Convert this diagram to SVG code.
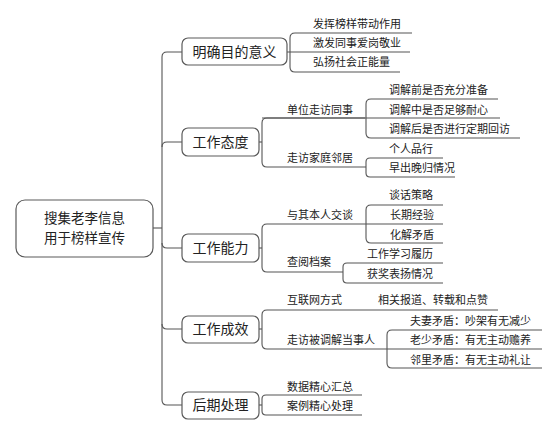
<svg xmlns="http://www.w3.org/2000/svg" width="558" height="435" viewBox="0 0 558 435">
<style>
.bg{fill:#ffffff}
.box{fill:#ffffff;stroke:#5a5a5a;stroke-width:1.2}
.ln{fill:none;stroke:#555555;stroke-width:1.1}
.t1{font-family:"Noto Sans CJK SC","Noto Sans",sans-serif;font-size:14px;fill:#222222;text-anchor:middle}
.t0{font-family:"Noto Sans CJK SC","Noto Sans",sans-serif;font-size:13.5px;fill:#222222;text-anchor:middle}
.t2{font-family:"Noto Sans CJK SC","Noto Sans",sans-serif;font-size:11px;fill:#222222}
</style>
<rect class="bg" x="0" y="0" width="558" height="435"/>
<g id="connectors">
<path class="ln" d="M153,228 H162"/>
<path class="ln" d="M182,52 H167 Q162,52 162,57 V400 Q162,405 167,405 H182"/>
<path class="ln" d="M162,147 Q162,142 167,142 H182"/>
<path class="ln" d="M162,243 Q162,248 167,248 H182"/>
<path class="ln" d="M162,324 Q162,329 167,329 H182"/>
<path class="ln" d="M412,33 H295 Q290,33 290,38 V67 Q290,72 295,72 H400"/>
<path class="ln" d="M287,52 H410"/>
<path class="ln" d="M259,142 H262"/>
<path class="ln" d="M262,118 H500"/>
<path class="ln" d="M365,118 H267 Q262,118 262,123 V162 Q262,167 267,167 H366"/>
<path class="ln" d="M498,99 H371 Q366,99 366,104 V133 Q366,138 371,138 H520"/>
<path class="ln" d="M443,158 H370 Q366,158 366,162 V173 Q366,177 370,177 H455"/>
<path class="ln" d="M259,248 H262"/>
<path class="ln" d="M443,224 H267 Q262,224 262,229 V267 Q262,272 267,272 H343"/>
<path class="ln" d="M443,205 H371 Q366,205 366,210 V238 Q366,243 371,243 H443"/>
<path class="ln" d="M443,263 H347 Q343,263 343,267 V279 Q343,283 347,283 H443"/>
<path class="ln" d="M259,329 H262"/>
<path class="ln" d="M498,310 H267 Q262,310 262,315 V344 Q262,349 267,349 H542"/>
<path class="ln" d="M542,330 H392 Q387,330 387,335 V363 Q387,368 392,368 H542"/>
<path class="ln" d="M259,405 H262"/>
<path class="ln" d="M362,395 H266 Q262,395 262,399 V411 Q262,415 266,415 H362"/>
</g>
<g id="root">
<rect class="box" x="16" y="200" width="137" height="57" rx="9"/>
<text class="t0" x="84.5" y="223">搜集老李信息</text>
<text class="t0" x="84.5" y="243">用于榜样宣传</text>
</g>
<g id="n-purpose">
<rect class="box" x="182" y="38" width="105" height="27" rx="6"/>
<text class="t1" x="234.5" y="57">明确目的意义</text>
</g>
<g id="n-attitude">
<rect class="box" x="182" y="128" width="77" height="28" rx="6"/>
<text class="t1" x="220.5" y="147">工作态度</text>
</g>
<g id="n-ability">
<rect class="box" x="182" y="234" width="77" height="28" rx="6"/>
<text class="t1" x="220.5" y="253">工作能力</text>
</g>
<g id="n-result">
<rect class="box" x="182" y="316" width="77" height="27" rx="6"/>
<text class="t1" x="220.5" y="334">工作成效</text>
</g>
<g id="n-post">
<rect class="box" x="182" y="392" width="77" height="27" rx="6"/>
<text class="t1" x="220.5" y="410">后期处理</text>
</g>
<g id="l-purpose">
<text class="t2" x="313" y="28">发挥榜样带动作用</text>
<text class="t2" x="313" y="47">激发同事爱岗敬业</text>
<text class="t2" x="313" y="66">弘扬社会正能量</text>
</g>
<g id="l-attitude">
<text class="t2" x="287" y="114">单位走访同事</text>
<text class="t2" x="287" y="162">走访家庭邻居</text>
<text class="t2" x="389" y="94">调解前是否充分准备</text>
<text class="t2" x="389" y="114">调解中是否足够耐心</text>
<text class="t2" x="389" y="133">调解后是否进行定期回访</text>
<text class="t2" x="389" y="153">个人品行</text>
<text class="t2" x="389" y="172">早出晚归情况</text>
</g>
<g id="l-ability">
<text class="t2" x="287" y="219">与其本人交谈</text>
<text class="t2" x="287" y="266">查阅档案</text>
<text class="t2" x="389" y="199">谈话策略</text>
<text class="t2" x="390" y="219">长期经验</text>
<text class="t2" x="390" y="239">化解矛盾</text>
<text class="t2" x="367" y="258">工作学习履历</text>
<text class="t2" x="367" y="278">获奖表扬情况</text>
</g>
<g id="l-result">
<text class="t2" x="287" y="304">互联网方式</text>
<text class="t2" x="378" y="304">相关报道、转载和点赞</text>
<text class="t2" x="287" y="344">走访被调解当事人</text>
<text class="t2" x="410" y="325">夫妻矛盾：吵架有无减少</text>
<text class="t2" x="410" y="344">老少矛盾：有无主动赡养</text>
<text class="t2" x="410" y="364">邻里矛盾：有无主动礼让</text>
</g>
<g id="l-post">
<text class="t2" x="287" y="391">数据精心汇总</text>
<text class="t2" x="287" y="410">案例精心处理</text>
</g>
</svg>
